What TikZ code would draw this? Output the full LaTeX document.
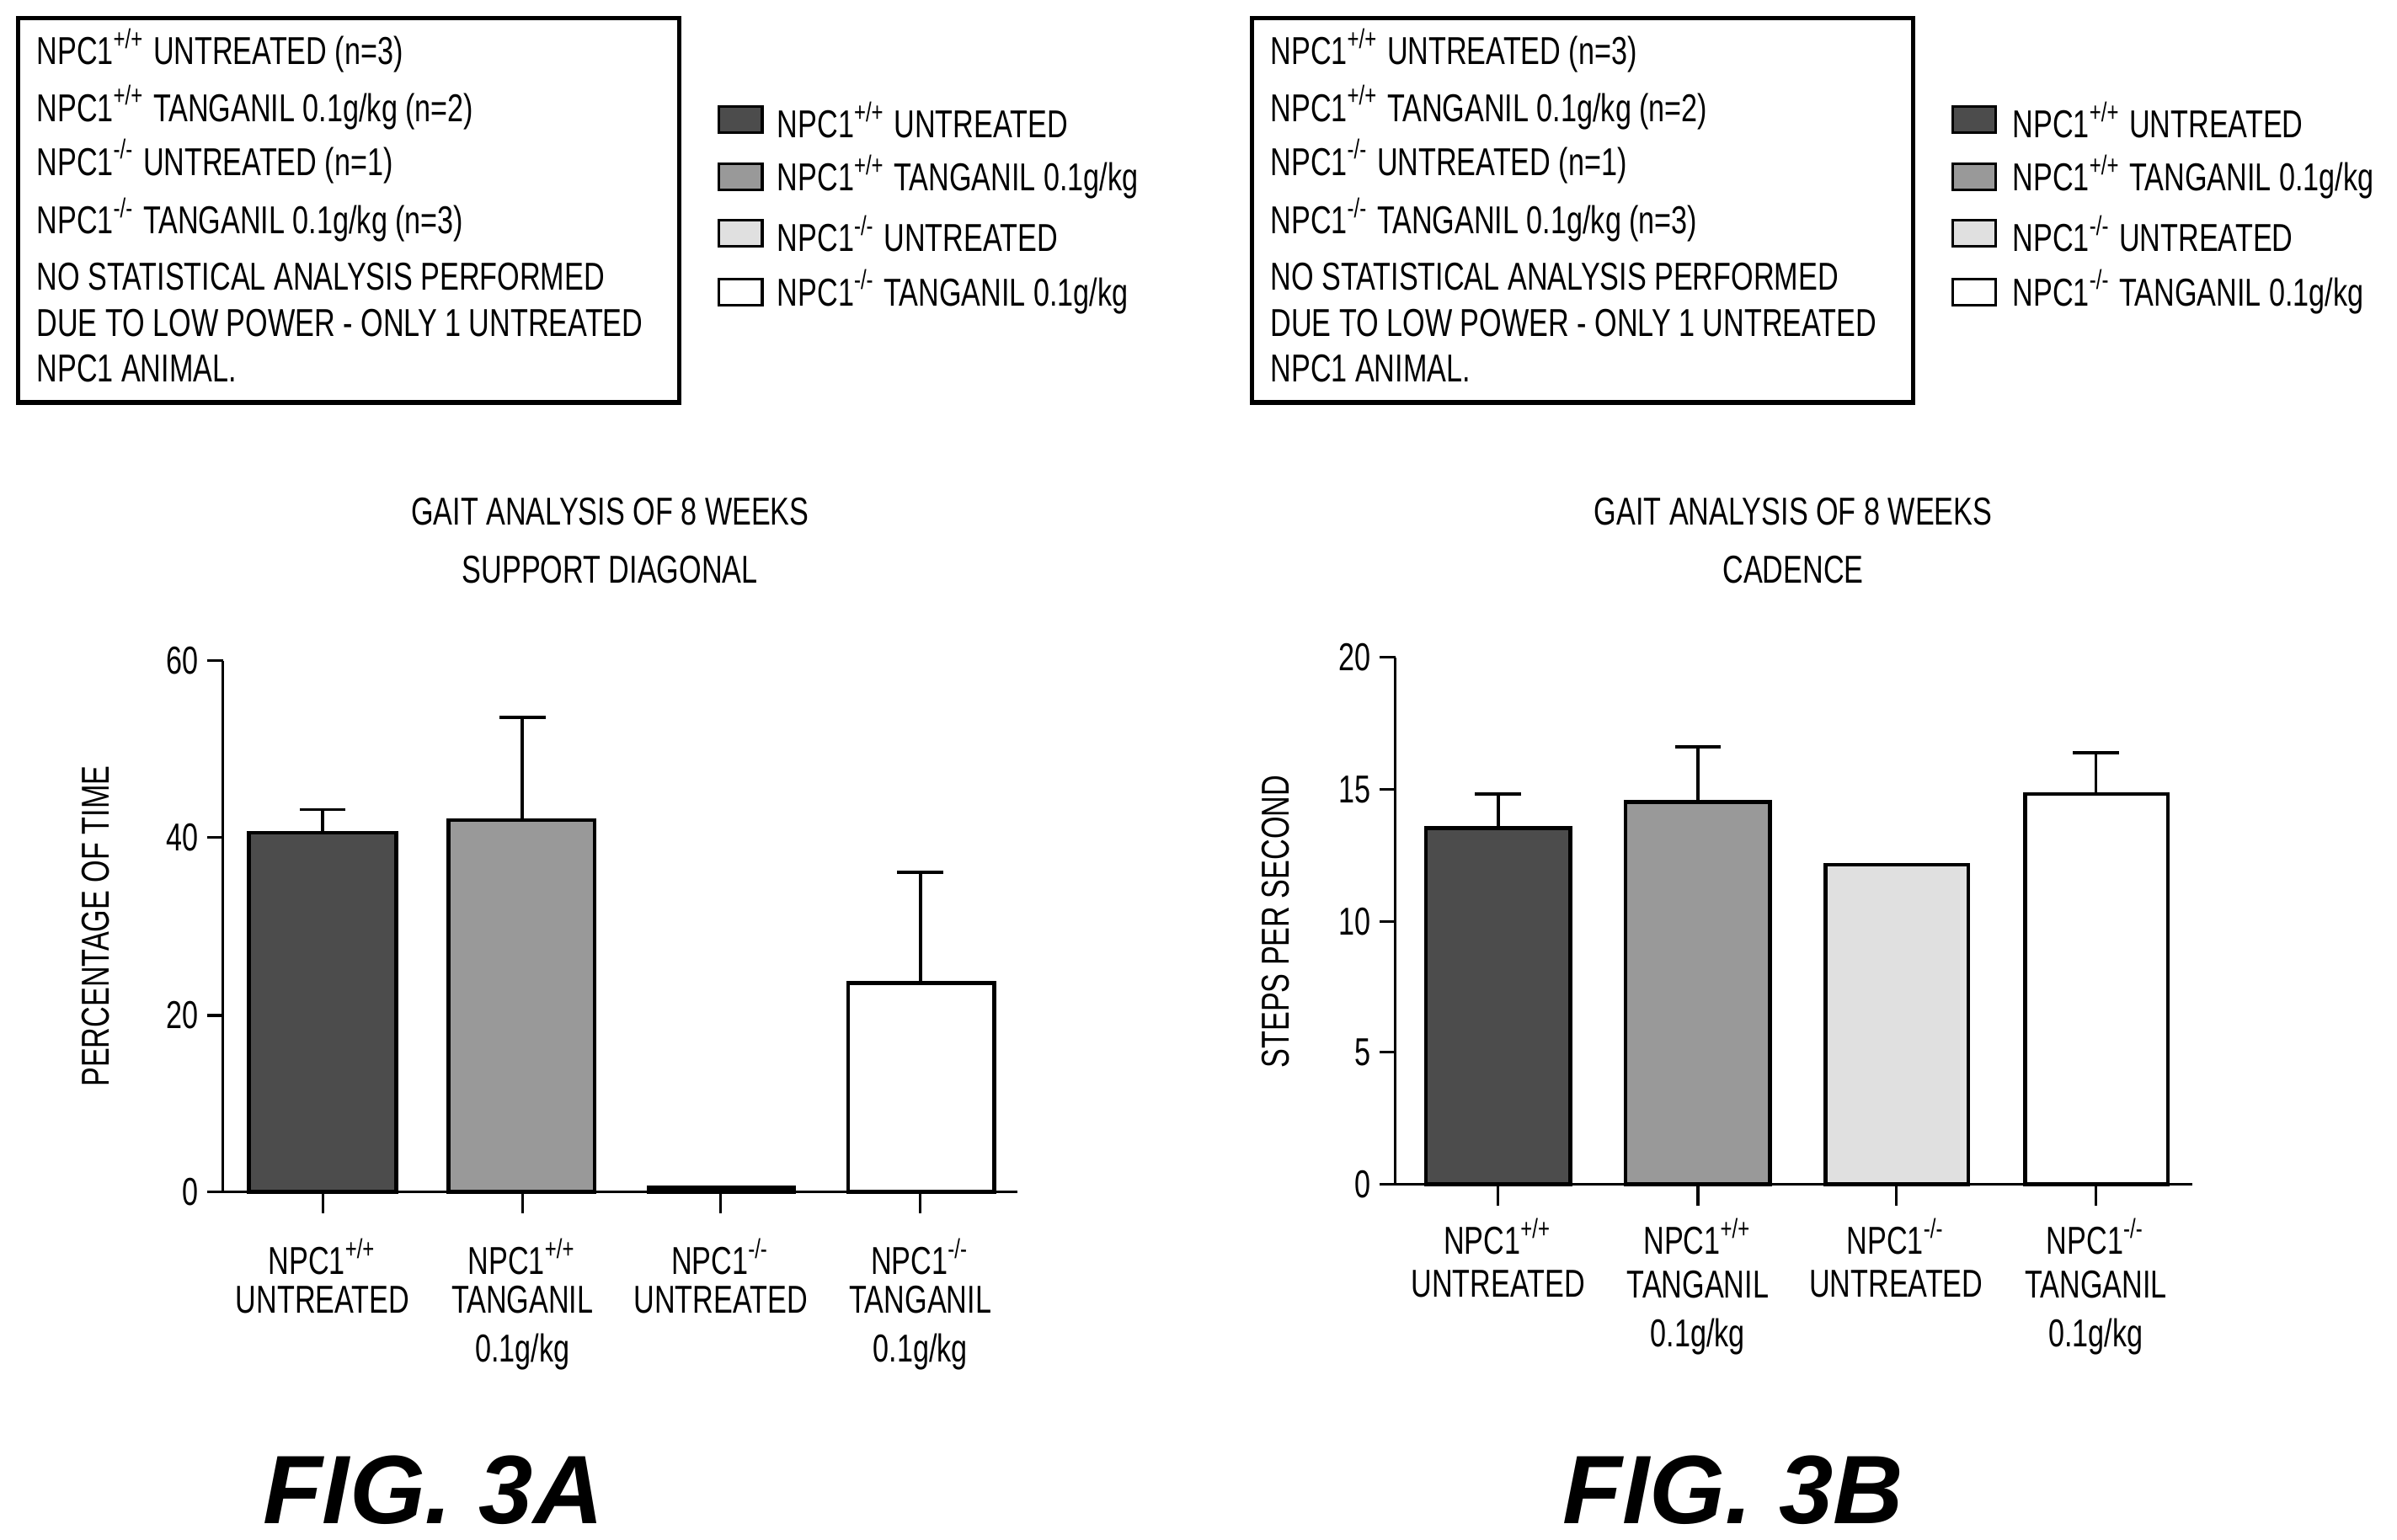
\documentclass[tikz,border=0pt]{standalone}
\usepackage{fontspec}
\setmainfont{Liberation Sans}[FakeStretch=0.74]
\newfontfamily\figfont{Liberation Sans}
\newcommand{\pp}{\textsuperscript{+/+}}
\newcommand{\mm}{\textsuperscript{-/-}}
\tikzset{
  txt/.style={anchor=west, inner sep=0pt, font=\fontsize{7.2}{8}\selectfont},
  lbl/.style={inner sep=0pt, font=\fontsize{7.2}{8}\selectfont},
  key/.style={draw, minimum width=0.28cm, minimum height=0.17cm, inner sep=0pt},
  bar/.style={draw, line width=0.7pt},
  errbar/.style={line width=0.6pt},
  figlabel/.style={font=\figfont\fontsize{18}{20}\selectfont\bfseries\itshape}
}
\begin{document}
\begin{tikzpicture}[x=0.01cm, y=-0.01cm, line width=0.5pt]
  \useasboundingbox (0,0) rectangle (1560,1002);
  % ---------- panel A ----------
  \draw[line width=0.8pt] (12,12) rectangle (442,262);
  \node[txt] (a1) at (23,33) {NPC1\pp{} UNTREATED (n=3)};
  \node[txt] (a2) at (23,70) {NPC1\pp{} TANGANIL 0.1g/kg (n=2)};
  \node[txt] (a3) at (23,105) {NPC1\mm{} UNTREATED (n=1)};
  \node[txt] (a4) at (23,143) {NPC1\mm{} TANGANIL 0.1g/kg (n=3)};
  \node[txt] (a5) at (23,180) {NO STATISTICAL ANALYSIS PERFORMED};
  \node[txt] (a6) at (23,210) {DUE TO LOW POWER - ONLY 1 UNTREATED};
  \node[txt] (a7) at (23,240) {NPC1 ANIMAL.};
  \node[key, fill=black!70] (ka1) at (482,78) {};
  \node[key, fill=black!40] (ka2) at (482,115) {};
  \node[key, fill=black!12] (ka3) at (482,152) {};
  \node[key, fill=white] (ka4) at (482,190) {};
  \node[txt] at (505,78) {NPC1\pp{} UNTREATED};
  \node[txt] at (505,115) {NPC1\pp{} TANGANIL 0.1g/kg};
  \node[txt] at (505,152) {NPC1\mm{} UNTREATED};
  \node[txt] at (505,190) {NPC1\mm{} TANGANIL 0.1g/kg};
  \node[lbl] (ta1) at (397,333) {GAIT ANALYSIS OF 8 WEEKS};
  \node[lbl] (ta2) at (397,371) {SUPPORT DIAGONAL};
  % axes
  \draw (145,430) -- (145,776) -- (662,776);
  \foreach \y/\v in {430/60,545/40,661/20,776/0} {
    \draw (135,\y) -- (145,\y);
    \node[lbl, anchor=east] at (130,\y) {\v};
  }
  \foreach \x in {210,340,469,599} \draw (\x,776) -- (\x,790);
  \node[lbl, rotate=90] (ya) at (62,603) {PERCENTAGE OF TIME};
  % bars
  \filldraw[bar, fill=black!70] (162,776) rectangle (258,542);
  \filldraw[bar, fill=black!40] (292,776) rectangle (387,534);
  \filldraw[bar, fill=black!12] (422,776) rectangle (517,773);
  \filldraw[bar, fill=white] (552,776) rectangle (647,640);
  \draw[errbar] (210,542) -- (210,527) (195,527) -- (225,527);
  \draw[errbar] (340,534) -- (340,467) (325,467) -- (355,467);
  \draw[errbar] (599,640) -- (599,568) (584,568) -- (614,568);
  \node[lbl] at (210,818) {NPC1\pp};
  \node[lbl] at (210,846) {UNTREATED};
  \node[lbl] at (340,818) {NPC1\pp};
  \node[lbl] at (340,846) {TANGANIL};
  \node[lbl] at (340,880) {0.1g/kg};
  \node[lbl] at (469,818) {NPC1\mm};
  \node[lbl] at (469,846) {UNTREATED};
  \node[lbl] at (599,818) {NPC1\mm};
  \node[lbl] at (599,846) {TANGANIL};
  \node[lbl] at (599,880) {0.1g/kg};
  \node[figlabel] (fa) at (282,970) {FIG. 3A};
  % ---------- panel B ----------
  \draw[line width=0.8pt] (815,12) rectangle (1245,262);
  \node[txt] (b1) at (826,33) {NPC1\pp{} UNTREATED (n=3)};
  \node[txt] (b2) at (826,70) {NPC1\pp{} TANGANIL 0.1g/kg (n=2)};
  \node[txt] (b3) at (826,105) {NPC1\mm{} UNTREATED (n=1)};
  \node[txt] (b4) at (826,143) {NPC1\mm{} TANGANIL 0.1g/kg (n=3)};
  \node[txt] (b5) at (826,180) {NO STATISTICAL ANALYSIS PERFORMED};
  \node[txt] (b6) at (826,210) {DUE TO LOW POWER - ONLY 1 UNTREATED};
  \node[txt] (b7) at (826,240) {NPC1 ANIMAL.};
  \node[key, fill=black!70] (kb1) at (1285,78) {};
  \node[key, fill=black!40] (kb2) at (1285,115) {};
  \node[key, fill=black!12] (kb3) at (1285,152) {};
  \node[key, fill=white] (kb4) at (1285,190) {};
  \node[txt] at (1309,78) {NPC1\pp{} UNTREATED};
  \node[txt] at (1309,115) {NPC1\pp{} TANGANIL 0.1g/kg};
  \node[txt] at (1309,152) {NPC1\mm{} UNTREATED};
  \node[txt] at (1309,190) {NPC1\mm{} TANGANIL 0.1g/kg};
  \node[lbl] (tb1) at (1167,333) {GAIT ANALYSIS OF 8 WEEKS};
  \node[lbl] (tb2) at (1167,371) {CADENCE};
  % axes
  \draw (908,428) -- (908,771) -- (1427,771);
  \foreach \y/\v in {428/20,514/15,600/10,685/5,771/0} {
    \draw (898,\y) -- (908,\y);
    \node[lbl, anchor=east] at (893,\y) {\v};
  }
  \foreach \x in {975,1105,1234,1364} \draw (\x,771) -- (\x,785);
  \node[lbl, rotate=90] (yb) at (830,600) {STEPS PER SECOND};
  % bars
  \filldraw[bar, fill=black!70] (928,771) rectangle (1022,539);
  \filldraw[bar, fill=black!40] (1058,771) rectangle (1152,522);
  \filldraw[bar, fill=black!12] (1188,771) rectangle (1281,563);
  \filldraw[bar, fill=white] (1318,771) rectangle (1411,517);
  \draw[errbar] (975,539) -- (975,517) (960,517) -- (990,517);
  \draw[errbar] (1105,522) -- (1105,486) (1090,486) -- (1120,486);
  \draw[errbar] (1364,517) -- (1364,490) (1349,490) -- (1379,490);
  \node[lbl] at (975,805) {NPC1\pp};
  \node[lbl] at (975,836) {UNTREATED};
  \node[lbl] at (1105,805) {NPC1\pp};
  \node[lbl] at (1105,836) {TANGANIL};
  \node[lbl] at (1105,870) {0.1g/kg};
  \node[lbl] at (1234,805) {NPC1\mm};
  \node[lbl] at (1234,836) {UNTREATED};
  \node[lbl] at (1364,805) {NPC1\mm};
  \node[lbl] at (1364,836) {TANGANIL};
  \node[lbl] at (1364,870) {0.1g/kg};
  \node[figlabel] (fb) at (1128,970) {FIG. 3B};
\end{tikzpicture}
\end{document}
